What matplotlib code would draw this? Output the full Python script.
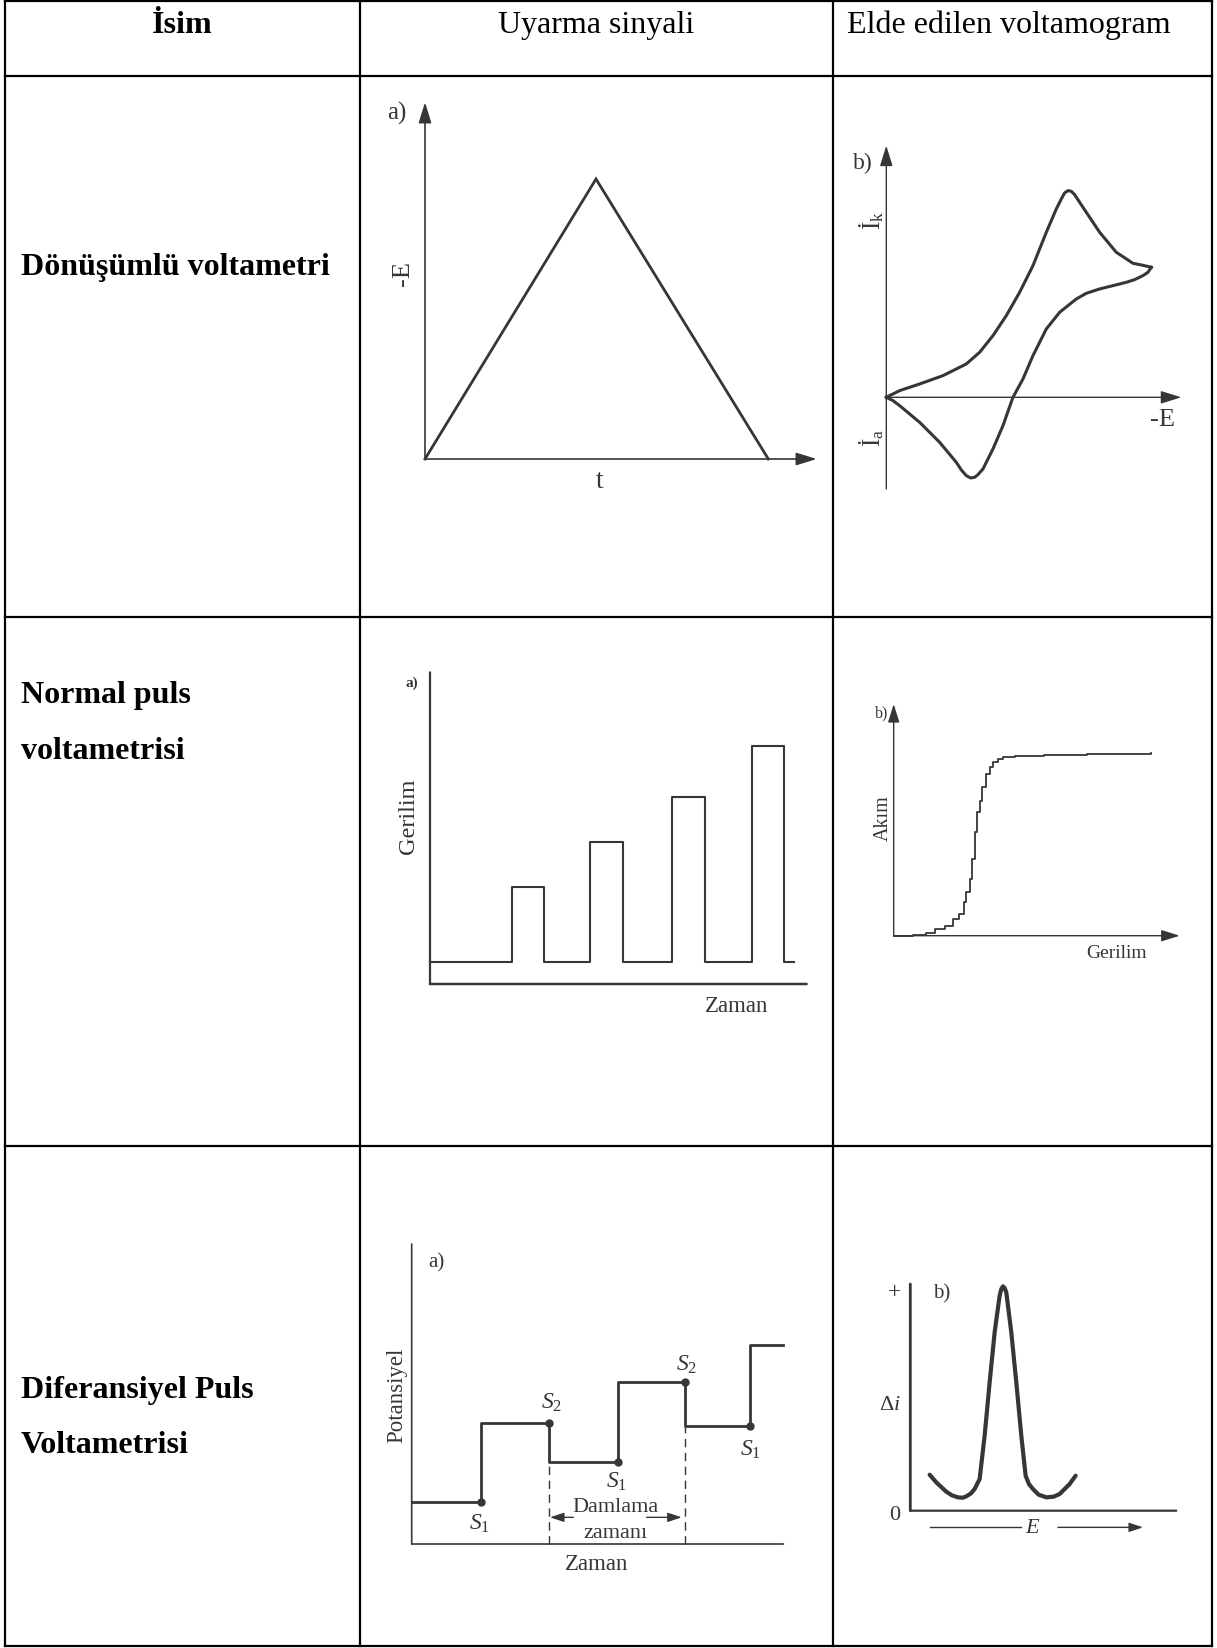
import numpy as np
import matplotlib
matplotlib.use('Agg')
import matplotlib.pyplot as plt

plt.rcParams['font.family'] = 'Liberation Serif'
plt.rcParams['mathtext.fontset'] = 'custom'
plt.rcParams['mathtext.rm'] = 'Liberation Serif'
plt.rcParams['mathtext.it'] = 'Liberation Serif:italic'

W, H = 1217, 1649
INK = '#363636'

# table content
headers = ['İsim', 'Uyarma sinyali', 'Elde edilen voltamogram']
methods = [['Dönüşümlü voltametri'],
           ['Normal puls', 'voltametrisi'],
           ['Diferansiyel Puls', 'Voltametrisi']]

# cyclic voltammetry: triangular potential sweep
cv_t = [0, 51.3, 103]
cv_e = [0, 84, 0]
# cyclic voltammogram, forward and reverse branch
cv_fwd_e = [0, 4, 10, 17, 24, 28, 32, 36, 40, 44, 48, 51, 52.5, 53.5, 54.5, 55.5,
            56.5, 58, 60, 64, 69, 74, 77, 79.5]
cv_fwd_i = [0, 2, 4, 6.5, 10, 13.5, 18.5, 24.5, 31.5, 39.5, 49.5, 56.5, 59.5, 61.3, 62, 61.8,
            60.8, 58.5, 55.5, 49.5, 43.5, 40.2, 39.6, 39]
cv_rev_e = [79.5, 78.5, 77, 74.5, 72, 68, 64, 60, 57, 52, 48, 44, 41, 38, 35, 32, 29,
            27.5, 26.5, 25.3, 24, 22.5, 21, 18.5, 16, 13, 10, 7, 4, 2, 0]
cv_rev_i = [39, 37.5, 36.5, 35.3, 34.5, 33.5, 32.5, 31.2, 29.5, 25.5, 20.5, 12.5, 5.5, 0, -8.5,
            -15.5, -21.5, -23.2, -24, -24.2, -23.5, -21.8, -19.5, -16.5, -13.5, -10.5, -7.5,
            -5, -2.5, -1, 0]

# normal pulse: base level, pulse start/end times and pulse heights
npv_base = 6.7
npv_start = [24.5, 48, 72.5, 96.5]
npv_end = [34.3, 58, 82.5, 106.2]
npv_top = [29, 42.5, 56, 71.3]
npv_tend = 109.2
# normal pulse voltammogram (sampled current steps)
npv_e = [0, 5.8, 9.8, 12.3, 15.3, 17.8, 19.6, 21.0, 21.8, 22.8, 23.6, 24.3, 25.0,
         25.8, 26.6, 27.6, 28.8, 29.8, 31.3, 32.8, 36.3, 45.0, 58.0, 77.3]
npv_i = [0, 0.3, 0.8, 2.0, 3.0, 5.0, 6.5, 10.0, 13.0, 17.0, 23.0, 31.0, 37.0,
         40.5, 44.5, 48.5, 50.5, 52.0, 53.0, 53.5, 53.8, 54.2, 54.6, 54.8]

# differential pulse: staircase with sampling points S1/S2
dpv_t = [0, 20.7, 20.7, 41.2, 41.2, 62, 62, 82, 82, 101.5, 101.5, 111.5]
dpv_v = [12.5, 12.5, 36.3, 36.3, 24.7, 24.7, 48.5, 48.5, 35.3, 35.3, 59.7, 59.7]
dpv_s_t = [20.7, 41.2, 62, 82, 101.5]
dpv_s_v = [12.5, 36.3, 24.7, 48.5, 35.3]
dpv_s_lab = ['$S_1$', '$S_2$', '$S_1$', '$S_2$', '$S_1$']
# differential pulse voltammogram
dpv_e = [5.8, 7.8, 10.8, 12.5, 14.3, 15.8, 16.8, 18.2, 19.3, 20.8, 22.3, 23.8, 25.3, 26.8,
         27.3, 27.8, 28.3, 28.8, 30.3, 31.8, 33.3, 34.6, 35.6, 36.8, 38.5, 40.8, 43, 44.8,
         47.8, 49.6]
dpv_di = [10.8, 8.5, 5.7, 4.6, 4.0, 3.9, 4.3, 5.2, 6.5, 9.5, 22.5, 38.5, 53.5, 64.5,
          66.5, 67.3, 66.8, 65.5, 53.5, 38.5, 22.5, 10.5, 8.0, 6.5, 4.8, 4.0, 4.2, 5.0,
          8.0, 10.5]

fig = plt.figure(figsize=(W / 100, H / 100), dpi=100)

# --- table frame and text ---
tab = fig.add_axes([0, 0, 1, 1])
tab.set_xlim(0, W)
tab.set_ylim(H, 0)
tab.axis('off')
col_x = [5, 360, 833, 1212]
row_y = [1.5, 77, 618, 1147, 1647]
for x in col_x:
    tab.plot([x, x], [row_y[0], row_y[-1]], color='black', lw=1.6, solid_capstyle='projecting')
for y in row_y:
    tab.plot([col_x[0], col_x[-1]], [y, y], color='black', lw=1.6, solid_capstyle='projecting')

TS = 23
tab.text(182, 33, headers[0], ha='center', va='baseline', fontsize=TS, fontweight='bold')
tab.text(596, 33, headers[1], ha='center', va='baseline', fontsize=TS)
tab.text(1009, 33, headers[2], ha='center', va='baseline', fontsize=TS)

baselines = [[275], [703, 759], [1398, 1453]]
for lines, ys in zip(methods, baselines):
    for txt, y in zip(lines, ys):
        tab.text(21, y, txt, ha='left', va='baseline', fontsize=TS, fontweight='bold')


def panel(org, xlim, ylim, s=10 / 3):
    # axes whose data origin sits at pixel org, s pixels per data unit
    left = org[0] + xlim[0] * s
    right = org[0] + xlim[1] * s
    top = org[1] - ylim[1] * s
    bottom = org[1] - ylim[0] * s
    ax = fig.add_axes([left / W, 1 - bottom / H, (right - left) / W, (bottom - top) / H])
    ax.set_xlim(xlim)
    ax.set_ylim(ylim)
    ax.axis('off')
    return ax


def axline(ax, p0, p1, lw=1.2, head=True, hl=0.9, hw=0.28):
    style = '-|>,head_length=%g,head_width=%g' % (hl, hw) if head else '-'
    ax.annotate('', xy=p1, xytext=p0,
                arrowprops=dict(arrowstyle=style, color=INK, lw=lw,
                                mutation_scale=14, shrinkA=0, shrinkB=0))


# --- cyclic voltammetry ---
ax = panel((425, 460), (-15, 120), (-10, 110))
axline(ax, (0, 0), (0, 107))
axline(ax, (0, 0), (117.5, 0))
ax.plot(cv_t, cv_e, color=INK, lw=2.0, solid_joinstyle='miter')
ax.text(-8.5, 104, 'a)', ha='center', va='center', fontsize=18, color=INK)
ax.text(-6.5, 56, '-E', ha='center', va='center', fontsize=19, rotation=90, color=INK)
ax.text(52.5, -6.5, 't', ha='center', va='center', fontsize=20, color=INK)

ax = panel((886.3, 398.3), (-10, 95), (-30, 80))
axline(ax, (0, -27.5), (0, 75.5), lw=1.0)
axline(ax, (0, 0), (88.5, 0), lw=1.0)
ax.plot(cv_fwd_e, cv_fwd_i, color=INK, lw=2.2, solid_joinstyle='round')
ax.plot(cv_rev_e, cv_rev_i, color=INK, lw=2.2, solid_joinstyle='round')
ax.text(-7, 70.5, 'b)', ha='center', va='center', fontsize=17, color=INK)
ax.text(-4.5, 53.5, 'İ$_\\mathrm{k}$', ha='center', va='center', fontsize=18, rotation=90, color=INK)
ax.text(-4.5, -12, 'İ$_\\mathrm{a}$', ha='center', va='center', fontsize=18, rotation=90, color=INK)
ax.text(83, -6.5, '-E', ha='center', va='center', fontsize=19, color=INK)

# --- normal pulse voltammetry ---
ax = panel((430, 985), (-10, 115), (-12, 100))
axline(ax, (0, 0), (0, 93.5), lw=1.6, head=False)
axline(ax, (0, 0), (113, 0), lw=1.8, head=False)
pt, pv = [0], [npv_base]
for t0, t1, v in zip(npv_start, npv_end, npv_top):
    pt += [t0, t0, t1, t1]
    pv += [npv_base, v, v, npv_base]
pt.append(npv_tend)
pv.append(npv_base)
ax.plot(pt, pv, color=INK, lw=1.5)
ax.text(-5.5, 90.5, 'a)', ha='center', va='center', fontsize=11, fontweight='bold', color=INK)
ax.text(-6.5, 50.5, 'Gerilim', ha='center', va='center', fontsize=17.5, rotation=90, color=INK)
ax.text(92, -6.5, 'Zaman', ha='center', va='center', fontsize=16.5, color=INK)

ax = panel((893.7, 936.7), (-8, 90), (-10, 72))
axline(ax, (0, 0), (0, 69.5), lw=1.0, hl=0.8, hw=0.25)
axline(ax, (0, 0), (85.8, 0), lw=1.0, hl=0.8, hw=0.25)
ax.step(npv_e, npv_i, where='post', color=INK, lw=1.3)
ax.text(-3.7, 67, 'b)', ha='center', va='center', fontsize=11.5, color=INK)
ax.text(-3.2, 35.5, 'Akım', ha='center', va='center', fontsize=14.5, rotation=90, color=INK)
ax.text(67, -5, 'Gerilim', ha='center', va='center', fontsize=14, color=INK)

# --- differential pulse voltammetry ---
ax = panel((411.7, 1545), (-10, 115), (-12, 95))
axline(ax, (0, 0), (0, 90), lw=1.2, head=False)
axline(ax, (0, 0), (111.5, 0), lw=1.2, head=False)
ax.plot(dpv_t, dpv_v, color=INK, lw=2.0)
ax.plot(dpv_s_t, dpv_s_v, 'o', color=INK, ms=5)
ax.plot([dpv_s_t[1]] * 2, [0, dpv_s_v[2]], color=INK, lw=1.0, ls=(0, (6, 4)))
ax.plot([dpv_s_t[3]] * 2, [0, dpv_s_v[4]], color=INK, lw=1.0, ls=(0, (6, 4)))
axline(ax, (48.5, 8), (41.5, 8), lw=1.0, hl=0.6, hw=0.2)
axline(ax, (70.5, 8), (81, 8), lw=1.0, hl=0.6, hw=0.2)
ax.text(61, 11.3, 'Damlama', ha='center', va='center', fontsize=16, color=INK)
ax.text(61, 3.5, 'zamanı', ha='center', va='center', fontsize=16, color=INK)
lab_pos = [(20.5, 6.3), (42, 42.5), (61.5, 19), (82.5, 54), (101.7, 28.5)]
for (lx, ly), lab in zip(lab_pos, dpv_s_lab):
    ax.text(lx, ly, lab, ha='center', va='center', fontsize=17, color=INK)
ax.text(7.3, 84.5, 'a)', ha='center', va='center', fontsize=15, color=INK)
ax.text(-4.5, 45, 'Potansiyel', ha='center', va='center', fontsize=16.5, rotation=90, color=INK)
ax.text(55.5, -6, 'Zaman', ha='center', va='center', fontsize=16.5, color=INK)

ax = panel((910.3, 1511.7), (-12, 85), (-8, 72))
axline(ax, (0, 0), (0, 68), lw=2.0, head=False)
axline(ax, (0, 0), (79.8, 0), lw=1.6, head=False)
ax.plot(dpv_e, dpv_di, color=INK, lw=3.0, solid_joinstyle='round', solid_capstyle='round')
ax.text(-4.7, 65.7, '+', ha='center', va='center', fontsize=17, color=INK)
ax.text(9.3, 65.5, 'b)', ha='center', va='center', fontsize=15, color=INK)
ax.text(-6.2, 32, '$\\Delta i$', ha='center', va='center', fontsize=16, color=INK)
ax.text(-4.7, -1, '0', ha='center', va='center', fontsize=16, color=INK)
ax.plot([5.8, 33.3], [-5, -5], color=INK, lw=1.0)
ax.text(36.8, -5, '$E$', ha='center', va='center', fontsize=16, color=INK)
axline(ax, (44.3, -5), (69.8, -5), lw=1.0, hl=0.6, hw=0.2)

fig.savefig('out.png', dpi=100)
